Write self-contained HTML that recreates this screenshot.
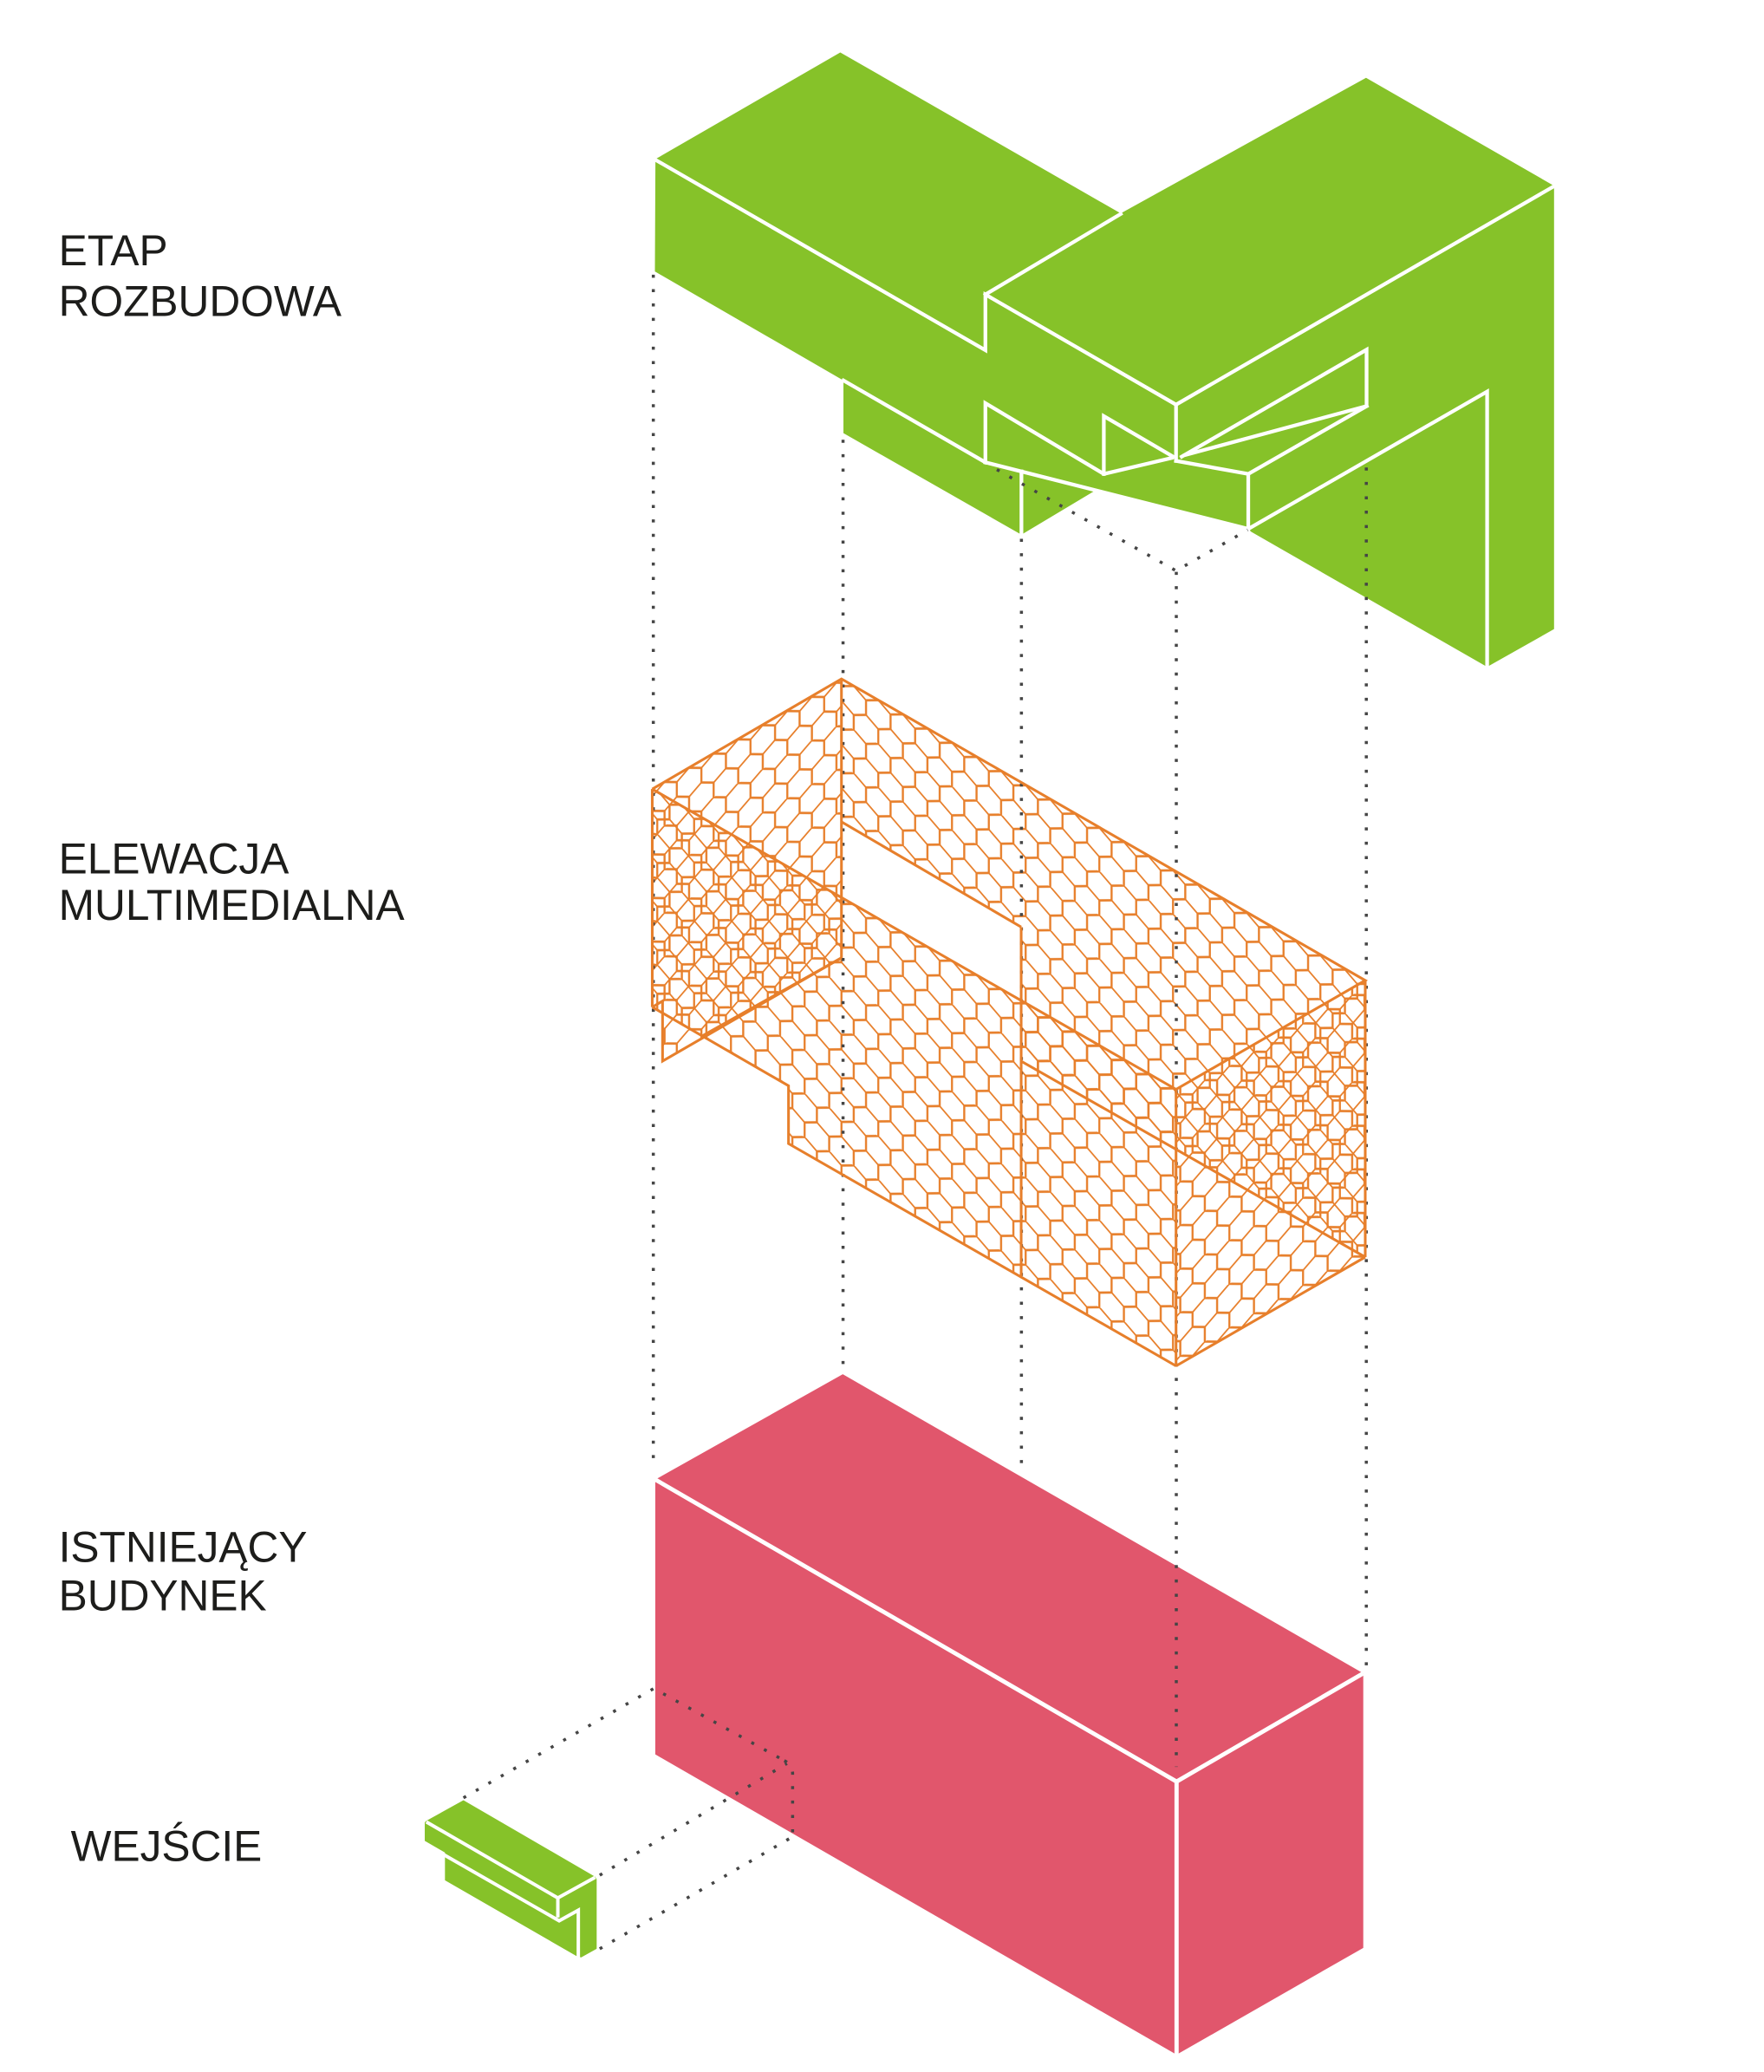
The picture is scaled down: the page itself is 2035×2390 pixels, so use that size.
<!DOCTYPE html>
<html>
<head>
<meta charset="utf-8">
<style>
html,body{margin:0;padding:0;background:#ffffff;}
svg{display:block;}
</style>
</head>
<body>
<svg xmlns="http://www.w3.org/2000/svg" width="2035" height="2390" viewBox="0 0 1336 1569" preserveAspectRatio="none">
<defs>
  <pattern id="hu" patternUnits="userSpaceOnUse" width="18.6" height="33" patternTransform="translate(637.3,514.1) skewY(30)">
    <path d="M9.3,0 L18.6,5.5 L18.6,16.5 L9.3,22 L0,16.5 L0,5.5 Z M9.3,22 L9.3,33" fill="none" stroke="#E77F2B" stroke-width="1.55"/>
  </pattern>
  <pattern id="hv" patternUnits="userSpaceOnUse" width="18.6" height="33" patternTransform="translate(494,597.5) skewY(-30)">
    <path d="M9.3,0 L18.6,5.5 L18.6,16.5 L9.3,22 L0,16.5 L0,5.5 Z M9.3,22 L9.3,33" fill="none" stroke="#E77F2B" stroke-width="1.55"/>
  </pattern>
</defs>

<rect x="0" y="0" width="1336" height="1569" fill="#ffffff"/>

<!-- ========== GREEN TOP BLOCK ========== -->
<polygon fill="#86C229" points="496.4,120.5 636.4,39.7 848.8,161.6 1034.6,58.9 1177,140.7 1177,476.4 1126.3,505 947.6,402.7 945.4,400.5 829.4,371.5 773.6,404.9 638.8,328 638.8,288.1 496,205.6"/>
<g stroke="#ffffff" stroke-width="2.8" fill="none" stroke-linejoin="miter" stroke-linecap="square">
  <polyline points="496.4,121 746.3,265.2 746.3,223 890.7,306.4 1177,141"/>
  <line x1="746.3" y1="223" x2="848.8" y2="162"/>
  <line x1="890.7" y1="306.4" x2="890.7" y2="349"/>
  <line x1="638.8" y1="288.1" x2="746.3" y2="350.1"/>
  <!-- left notch -->
  <polyline points="746.3,350.1 746.3,305.3 836,358.9 887.2,346.8"/>
  <polyline points="836,358.9 836,315.1 888.5,345.8"/>
  <line x1="746.3" y1="350.1" x2="945.4" y2="400.5"/>
  <line x1="773.6" y1="357" x2="773.6" y2="404.9"/>
  <!-- right notch -->
  <polyline points="890.7,349 945.4,358.9 945.4,400.5"/>
  <line x1="945.4" y1="358.9" x2="1035.1" y2="307.5"/>
  <polyline points="895,345.8 1035,264.8 1035,307.5 897.2,344.7"/>
  <!-- right leg -->
  <polyline points="945.4,400.5 1126.3,296.5 1126.3,505"/>
</g>

<!-- ========== PINK BLOCK ========== -->
<polygon fill="#E1566C" points="638.3,1040.6 1032.5,1267.1 1032.5,1475 891.1,1555.9 496.3,1328.5 496.3,1120.4"/>
<g stroke="#ffffff" stroke-width="3.2" fill="none">
  <polyline points="496.3,1120.4 891.1,1349.1 1032.5,1267.1"/>
  <line x1="891.1" y1="1349.1" x2="891.1" y2="1557"/>
</g>

<!-- ========== WEJSCIE GREEN PIECE ========== -->
<polygon fill="#86C229" points="351,1363.2 450.7,1421.1 451.9,1423 451.9,1475.7 440.1,1482.3 436.6,1481.2 337,1423.8 337,1402.8 321.7,1394 321.7,1380 322.9,1378.8"/>
<g stroke="#ffffff" stroke-width="2.6" fill="none">
  <polyline points="322.9,1379.6 422.5,1437.2 450.7,1421.6"/>
  <line x1="422.5" y1="1437.2" x2="422.5" y2="1452"/>
  <polyline points="320.5,1395.5 423.5,1454.5 438,1446.5 438,1483"/>
</g>

<!-- ========== ORANGE MESH FRAME ========== -->
<polygon fill="url(#hu)" points="637.3,514.1 1034,742.4 1034,951.9 773.4,803.6 773.4,702 637.3,622.3"/>
<polygon fill="url(#hv)" points="494,597.5 637.3,514.1 637.3,725.3 501.8,803.5 501.8,758 494,762.6"/>
<polygon fill="url(#hu)" points="494,597.5 890.7,824.9 890.7,1034.3 597.2,866 597.2,822.2 494,762.6"/>
<polygon fill="url(#hv)" points="890.7,824.9 1034,742.4 1034,951.9 890.7,1034.3"/>

<!-- ========== DOTTED GUIDES ========== -->
<g stroke="#454545" stroke-width="2.3" stroke-dasharray="2.3 8.6" fill="none">
  <line x1="494.8" y1="208" x2="494.8" y2="1106"/>
  <line x1="638.5" y1="333" x2="638.5" y2="1036"/>
  <line x1="773.6" y1="408" x2="773.6" y2="1113"/>
  <line x1="890.9" y1="433" x2="890.9" y2="1338"/>
  <line x1="1034.8" y1="354" x2="1034.8" y2="1264"/>
  <polyline points="755,355.6 890.7,432.2 945,401.3"/>
  <polyline points="351,1361.4 495.2,1278.6 594,1333.2"/>
  <path d="M594,1333.2 Q600.3,1336.5 600.3,1343 L600.3,1390"/>
  <line x1="454.2" y1="1420" x2="596" y2="1335.4"/>
  <line x1="454.2" y1="1475.7" x2="598" y2="1392.2"/>
</g>

<!-- orange outlines -->
<g stroke="#E77F2B" stroke-width="2" fill="none" stroke-linejoin="miter">
  <polyline points="494,597.5 637.3,514.1 1034,742.4 890.7,824.9 494,597.5"/>
  <line x1="494" y1="597.5" x2="494" y2="762.6"/>
  <line x1="637.3" y1="514.1" x2="637.3" y2="725.3"/>
  <line x1="890.7" y1="824.9" x2="890.7" y2="1034.3"/>
  <line x1="1034" y1="742.4" x2="1034" y2="951.9"/>
  <line x1="890.7" y1="1034.3" x2="1034" y2="951.9"/>
  <polyline points="494,762.6 597.2,822.2 597.2,866 890.7,1034.3"/>
  <polyline points="637.3,725.3 501.8,803.5 501.8,758 494,762.6"/>
  <line x1="637.3" y1="725.3" x2="531.8" y2="784.5"/>
  <line x1="773.4" y1="803.6" x2="1034" y2="951.9"/>
  <line x1="637.3" y1="622.3" x2="773.4" y2="702"/>
  <line x1="773.4" y1="702" x2="773.4" y2="967"/>
</g>

<!-- ========== LABELS ========== -->
<g font-family="'Liberation Sans', Arial, sans-serif" font-size="32.6" fill="#1d1d1b">
  <text x="44.4" y="200.9">ETAP</text>
  <text x="44.4" y="239.2">ROZBUDOWA</text>
  <text x="44.4" y="661.3">ELEWACJA</text>
  <text x="44.4" y="696.4">MULTIMEDIALNA</text>
  <text x="44.4" y="1182.8">ISTNIEJĄCY</text>
  <text x="44.4" y="1219.4">BUDYNEK</text>
  <text x="53.6" y="1409.3">WEJŚCIE</text>
</g>
</svg>
</body>
</html>
